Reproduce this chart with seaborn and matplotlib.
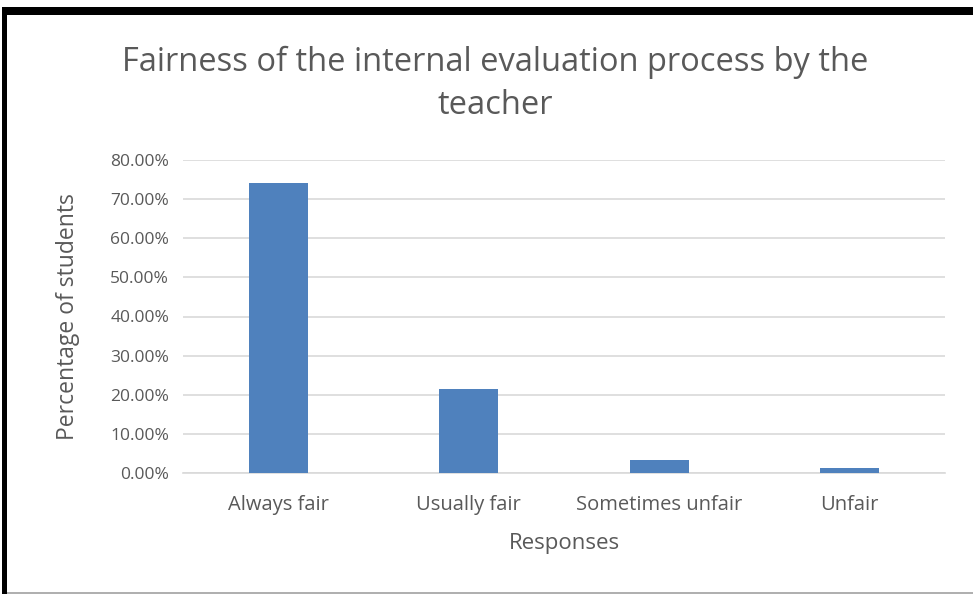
import matplotlib
matplotlib.use("Agg")
import matplotlib.pyplot as plt
import seaborn as sns
import pandas as pd
from matplotlib.patches import Rectangle
from matplotlib.ticker import FuncFormatter

# dados
respostas = ["Always fair", "Usually fair", "Sometimes unfair", "Unfair"]
percentuais = [74.0, 21.4, 3.3, 1.3]

df = pd.DataFrame({"resposta": respostas, "pct": percentuais})

sns.set_theme(style="white")
plt.rcParams['font.family'] = ['Open Sans', 'DejaVu Sans']

W, H = 973, 594
fig = plt.figure(figsize=(W / 100, H / 100), dpi=100)
ax = fig.add_axes([183 / W, 1 - 473 / H, (945 - 183) / W, (473 - 160) / H])

sns.barplot(data=df, x="resposta", y="pct", color="#4f81bd", saturation=1, width=0.31,
            linewidth=0, ax=ax, zorder=3)

ax.set_ylim(0, 80)
ax.set_yticks(range(0, 81, 10))
ax.yaxis.set_major_formatter(FuncFormatter(lambda v, p: f"{v:.2f}%"))
ax.grid(axis="y", color="#d9d9d9", linewidth=1.2, zorder=0)
for s in ["top", "right", "left"]:
    ax.spines[s].set_visible(False)
ax.spines["bottom"].set_color("#d9d9d9")
ax.spines["bottom"].set_linewidth(1.2)
ax.tick_params(axis="y", length=0, labelsize=12.5, labelcolor="#595959", pad=10)
ax.tick_params(axis="x", length=0, labelsize=14.5, labelcolor="#595959", pad=16)

ax.set_xlabel("Responses", fontsize=16, color="#595959", labelpad=13)
ax.set_ylabel("Percentage of students", fontsize=16.5, color="#595959", labelpad=22)

fig.text(495 / W, 1 - 62 / H, "Fairness of the internal evaluation process by the",
         ha="center", va="center", fontsize=23.5, color="#595959")
fig.text(495 / W, 1 - 105 / H, "teacher",
         ha="center", va="center", fontsize=23.5, color="#595959")

# moldura
fig.patches.append(Rectangle((2 / W, 1 - 15 / H), 1 - 2 / W, 8 / H, transform=fig.transFigure,
                             facecolor="black", edgecolor="none"))
fig.patches.append(Rectangle((2 / W, 0), 5 / W, 1 - 8 / H, transform=fig.transFigure,
                             facecolor="black", edgecolor="none"))
fig.patches.append(Rectangle((7 / W, 0), 1 - 7 / W, 2 / H, transform=fig.transFigure,
                             facecolor="#b0b0b0", edgecolor="none"))

fig.savefig("out.png", dpi=100)
